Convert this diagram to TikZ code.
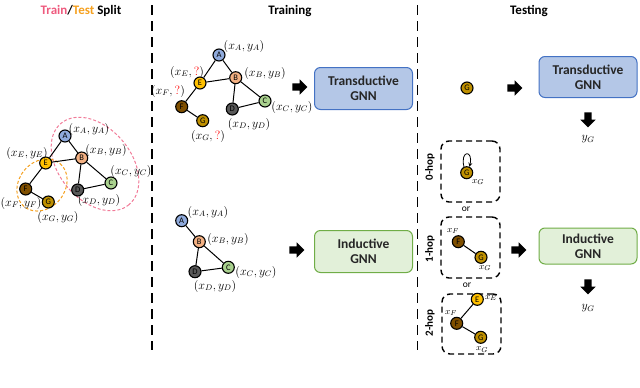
\documentclass[tikz,border=0pt]{standalone}
\usepackage{fontspec}
\setmainfont{Carlito}
\usetikzlibrary{shapes.arrows}
\definecolor{trpink}{HTML}{EE5A7E}
\definecolor{tsorange}{HTML}{F5A01E}
\definecolor{cA}{HTML}{8FAADC}
\definecolor{cB}{HTML}{F4B183}
\definecolor{cC}{HTML}{A9D18E}
\definecolor{cD}{HTML}{595959}
\definecolor{cE}{HTML}{FFC000}
\definecolor{cF}{HTML}{7F4F00}
\definecolor{cG}{HTML}{BF9000}
\definecolor{tbfill}{HTML}{B4C7E7}
\definecolor{tbdraw}{HTML}{4472C4}
\definecolor{ibfill}{HTML}{E2F0D9}
\definecolor{ibdraw}{HTML}{70AD47}
\tikzset{
  gnode/.style={circle, draw=black, line width=1.1pt, minimum size=12pt, inner sep=0pt, font=\fontsize{8.5}{8.5}\selectfont},
  glink/.style={line width=1pt},
  lab/.style={font=\fontsize{12}{12}\selectfont, inner sep=0pt},
  slab/.style={font=\fontsize{9.5}{10}\selectfont, inner sep=0pt},
  header/.style={font=\fontsize{13}{14}\selectfont\bfseries},
  gnnbox/.style={rounded corners=6pt, line width=1pt, minimum width=98pt, minimum height=42pt, align=center, font=\fontsize{13.5}{15}\selectfont\bfseries, text=black!85},
  hopbox/.style={draw, dashed, dash pattern=on 6pt off 4pt, line width=1.4pt, rounded corners=8pt},
  hoplab/.style={rotate=90, font=\fontsize{11}{12}\selectfont\bfseries},
  orlab/.style={font=\fontsize{9.5}{10}\selectfont},
  sepline/.style={dash pattern=on 10pt off 6pt, line width=1.4pt},
  blockarrow/.style={single arrow, fill=black, draw=none, inner sep=0pt, minimum height=15pt, single arrow head extend=4pt, text height=7pt},
  hdash/.style={draw=#1, dashed, dash pattern=on 3pt off 2pt, line width=1pt}
}
\begin{document}
\begin{tikzpicture}[x=1pt,y=-1pt]
\useasboundingbox (0,0) rectangle (640,388);

% headers
\node[header] (h1) at (81,11) {\textcolor{trpink}{Train}/\textcolor{tsorange}{Test} Split};
\node[header] (h2) at (290,11) {Training};
\node[header] (h3) at (529,11) {Testing};

% separators
\coordinate (s1t) at (152,5); \coordinate (s1b) at (152,350);
\coordinate (s2t) at (417.5,5); \coordinate (s2b) at (417.5,350);
\draw[sepline] (s1t) -- (s1b);
\draw[sepline] (s2t) -- (s2b);

% ---------- left split graph ----------
\draw[hdash=trpink!80] (95,164) ellipse[x radius=53, y radius=36, rotate=-50];
\draw[hdash=tsorange] (42,185) ellipse[x radius=28, y radius=23, rotate=50];
\node[gnode, fill=cA] (lA) at (65,136) {A};
\node[gnode, fill=cB] (lB) at (81.7,158) {B};
\node[gnode, fill=cE] (lE) at (45.7,163) {E};
\node[gnode, fill=cC] (lC) at (111,183) {C};
\node[gnode, fill=cD] (lD) at (77.7,190) {D};
\node[gnode, fill=cF] (lF) at (25.7,189) {F};
\node[gnode, fill=cG] (lG) at (48.3,202) {G};
\draw[glink] (lA) -- (lE) (lA) -- (lB) (lE) -- (lB) (lB) -- (lD) (lB) -- (lC) (lD) -- (lC) (lE) -- (lF) (lF) -- (lG);
\node[lab] (llA) at (89,129) {$(x_A,y_A)$};
\node[lab] (llB) at (106,150) {$(x_B,y_B)$};
\node[lab] (llE) at (27,153) {$(x_E,y_E)$};
\node[lab] (llC) at (131,171) {$(x_C,y_C)$};
\node[lab] (llD) at (99,200) {$(x_D,y_D)$};
\node[lab] (llF) at (21,203) {$(x_F,y_F)$};
\node[lab] (llG) at (58,217) {$(x_G,y_G)$};

% ---------- training transductive ----------
\node[gnode, fill=cA] (tA) at (219,55) {A};
\node[gnode, fill=cB] (tB) at (235.7,77.7) {B};
\node[gnode, fill=cE] (tE) at (200,83) {E};
\node[gnode, fill=cC] (tC) at (265,101) {C};
\node[gnode, fill=cD] (tD) at (232.3,109) {D};
\node[gnode, fill=cF] (tF) at (181.7,106.7) {F};
\node[gnode, fill=cG] (tG) at (202.7,120.7) {G};
\draw[glink] (tA) -- (tE) (tA) -- (tB) (tE) -- (tB) (tB) -- (tD) (tB) -- (tC) (tD) -- (tC) (tE) -- (tF) (tF) -- (tG);
\node[lab] (tlA) at (244,46) {$(x_A,y_A)$};
\node[lab] (tlB) at (265,73) {$(x_B,y_B)$};
\node[lab] (tlE) at (187,72) {$(x_E,{\color{red}?})$};
\node[lab] (tlF) at (168,91) {$(x_F,{\color{red}?})$};
\node[lab] (tlC) at (292,107) {$(x_C,y_C)$};
\node[lab] (tlD) at (249,124) {$(x_D,y_D)$};
\node[lab] (tlG) at (208,136) {$(x_G,{\color{red}?})$};
\node[blockarrow] (ar1) at (298,87) {};
\node[gnnbox, fill=tbfill, draw=tbdraw] (trT) at (363.5,88.5) {Transductive\\GNN};

% ---------- training inductive ----------
\node[gnode, fill=cA] (iA) at (181.7,220.7) {A};
\node[gnode, fill=cB] (iB) at (199.3,241.7) {B};
\node[gnode, fill=cC] (iC) at (228.3,267.3) {C};
\node[gnode, fill=cD] (iD) at (195,271.7) {D};
\draw[glink] (iA) -- (iB) (iB) -- (iC) (iB) -- (iD) (iD) -- (iC);
\node[lab] (ilA) at (208,212) {$(x_A,y_A)$};
\node[lab] (ilB) at (228,239) {$(x_B,y_B)$};
\node[lab] (ilC) at (256,272) {$(x_C,y_C)$};
\node[lab] (ilD) at (215,286) {$(x_D,y_D)$};
\node[blockarrow] (ar2) at (295,250) {};
\node[gnnbox, fill=ibfill, draw=ibdraw] (trI) at (363.5,251.5) {Inductive\\GNN};

% ---------- testing transductive ----------
\node[gnode, fill=cG] (sG) at (467,88) {G};
\node[blockarrow] (ar3) at (513,88) {};
\node[gnnbox, fill=tbfill, draw=tbdraw, minimum height=41pt] (teT) at (588,77) {Transductive\\GNN};
\node[blockarrow, rotate=-90] (ar4) at (588,118) {};
\node[lab] (yT) at (588,139) {$y_G$};

% ---------- testing inductive ----------
\node[hopbox, minimum width=59pt, minimum height=61pt] (b0) at (470.5,171.5) {};
\node[hopbox, minimum width=59pt, minimum height=61pt] (b1) at (470.5,247.5) {};
\node[hopbox, minimum width=59pt, minimum height=60pt] (b2) at (471.5,324) {};
\node[hoplab] (l0) at (430,167) {0-hop};
\node[hoplab] (l1) at (430,249) {1-hop};
\node[hoplab] (l2) at (430,323) {2-hop};
\node[orlab] (or1) at (466,209) {or};
\node[orlab] (or2) at (467,285.5) {or};

\node[gnode, fill=cG] (zG) at (466.7,172.7) {G};
\draw[line width=0.8pt, ->, >=stealth] (zG.115) .. controls +(-4,-17) and +(4,-17) .. (zG.65);
\node[slab] (zx) at (478,182) {$x_G$};

\node[gnode, fill=cF] (oF) at (458.3,241.7) {F};
\node[gnode, fill=cG] (oG) at (481,257.3) {G};
\draw[glink] (oF) -- (oG);
\node[slab] (oxF) at (453,231) {$x_F$};
\node[slab] (oxG) at (485,268) {$x_G$};

\node[gnode, fill=cE] (wE) at (477.3,299.3) {E};
\node[gnode, fill=cF] (wF) at (456.7,323.3) {F};
\node[gnode, fill=cG] (wG) at (480.7,337.3) {G};
\draw[glink] (wF) -- (wE) (wF) -- (wG);
\node[slab] (wxE) at (491,298) {$x_E$};
\node[slab] (wxF) at (451,313) {$x_F$};
\node[slab] (wxG) at (482,349.5) {$x_G$};

\node[blockarrow] (ar5) at (517,250) {};
\node[gnnbox, fill=ibfill, draw=ibdraw, minimum height=36pt] (teI) at (588,246) {Inductive\\GNN};
\node[blockarrow, rotate=-90] (ar6) at (588,285) {};
\node[lab] (yI) at (588,308) {$y_G$};
\end{tikzpicture}
\end{document}
